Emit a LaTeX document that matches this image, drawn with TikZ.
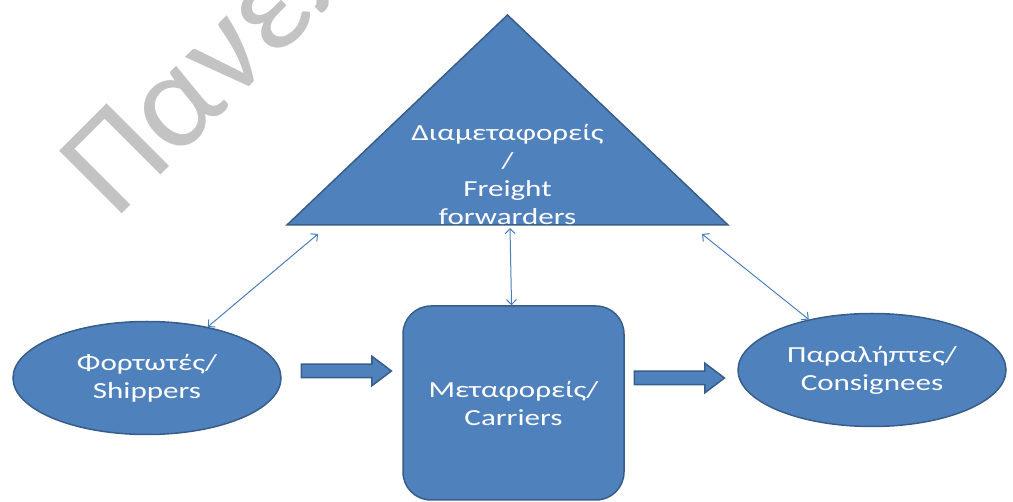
\documentclass[tikz,border=0pt]{standalone}
\usepackage{fontspec}
\setmainfont{Carlito}
\newfontfamily\boxfont{Carlito}[FakeStretch=1.35]
\newcommand\boxtext{\boxfont\fontsize{23}{28}\selectfont}
\usetikzlibrary{arrows.meta, shapes.geometric, shapes.arrows}

\definecolor{boxblue}{HTML}{4F81BD}
\definecolor{boxedge}{HTML}{385D8A}
\definecolor{linkblue}{HTML}{4A7EBB}
\definecolor{markgray}{HTML}{C3C3C3}

\begin{document}
\begin{tikzpicture} [x=1pt, y=-1pt,
  bluebox/.style = {fill=boxblue, draw=boxedge, line width=1.5pt},
  party/.style = {bluebox, ellipse, minimum width=268pt, minimum height=113pt,
    inner sep=0pt, text=white, align=center, font=\boxtext},
  carrier/.style = {bluebox, rectangle, rounded corners=28pt, minimum width=221pt,
    minimum height=194pt, text=white, align=center, font=\boxtext},
  flow/.style = {bluebox, single arrow, single arrow head extend=8pt,
    single arrow tip angle=74, single arrow head indent=0pt,
    minimum height=90pt, inner sep=6pt},
  link/.style = {<->, >={Straight Barb[length=5pt, width=10pt]},
    color=linkblue, line width=1pt}]

\useasboundingbox (0,0) rectangle (1013,502);
\clip (0,0) rectangle (1013,502);

% watermark
\node (mark) [rotate=45, anchor=base west, inner sep=0pt, text=markgray,
  font=\fontsize{138}{140}\selectfont] at (115,221) {Πανεπ};

% freight forwarders
\coordinate (apex) at (507.5,15);
\coordinate (baseL) at (287,225);
\coordinate (baseR) at (728,225);
\filldraw [bluebox] (apex) -- (baseR) -- (baseL) -- cycle;
\node (fwd) [text=white, align=center, font=\boxtext] at (507.5,174)
  {Διαμεταφορείς\\/\\Freight\\forwarders};

\node (ship) [party] at (147,378) {Φορτωτές/\\Shippers};
\node (carr) [carrier] at (513.5,403) {Μεταφορείς/\\Carriers};
\node (cons) [party] at (872,370) {Παραλήπτες/\\Consignees};

% goods flow
\node (load) [flow] at (342,371) {};
\node (hand) [flow] at (675,378) {};

\coordinate (fwd-w) at (318,234);
\coordinate (fwd-s) at (510,228);
\coordinate (fwd-e) at (702,234);

\path [link]
  (fwd-w) edge (ship);
\path [link]
  (fwd-s) edge (carr);
\path [link]
  (fwd-e) edge (cons);

\end{tikzpicture}
\end{document}
